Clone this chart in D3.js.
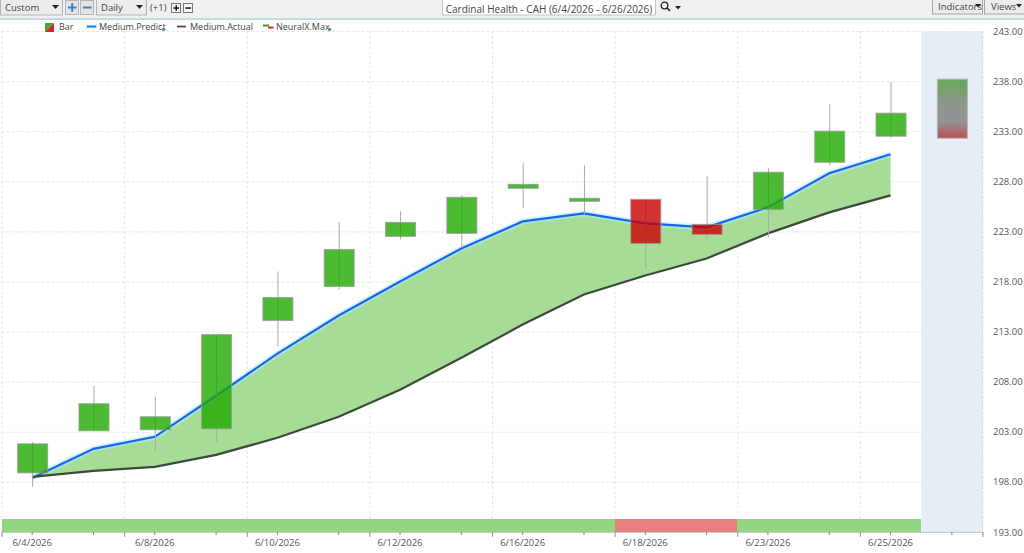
<!DOCTYPE html>
<html>
<head>
<meta charset="utf-8">
<script src="https://cdn.jsdelivr.net/npm/d3@7"></script>
<style>
  html, body { margin: 0; padding: 0; background: #fff; overflow: hidden; }
  text { font-family: "Open Sans", "Noto Sans", sans-serif; }
  .tool { font-size: 9.5px; fill: #444; }
  .legend { font-size: 9px; fill: #444; }
  .tick text { font-size: 9.5px; fill: #555; }
</style>
</head>
<body>
<script>
// chart values
var dates = ["6/4/2026", "6/5/2026", "6/8/2026", "6/9/2026", "6/10/2026", "6/11/2026", "6/12/2026", "6/15/2026",
             "6/16/2026", "6/17/2026", "6/18/2026", "6/22/2026", "6/23/2026", "6/24/2026", "6/25/2026", "6/26/2026"];
var labelledDates = ["6/4/2026", "6/8/2026", "6/10/2026", "6/12/2026", "6/16/2026", "6/18/2026", "6/23/2026", "6/25/2026"];
var gridDates = ["6/4/2026", "6/8/2026", "6/10/2026", "6/12/2026", "6/16/2026", "6/18/2026", "6/23/2026", "6/25/2026"];

var open  = [198.9, 203.1, 203.2, 203.3, 214.1, 217.5, 222.5, 222.8, 227.3, 226.0, 226.2, 223.7, 225.2, 229.9, 232.5];
var close = [201.8, 205.8, 204.5, 212.7, 216.4, 221.2, 223.9, 226.4, 227.7, 226.3, 221.8, 222.7, 228.9, 233.0, 234.8];
var high  = [202.0, 207.6, 206.5, 212.7, 219.0, 223.9, 225.0, 226.6, 229.8, 229.6, 226.2, 228.5, 229.3, 235.7, 237.9];
var low   = [197.5, 203.1, 201.0, 202.0, 211.5, 217.2, 222.2, 221.4, 225.3, 224.7, 219.3, 222.3, 222.4, 229.6, 232.3];

var predict = [198.4, 201.3, 202.5, 206.6, 210.8, 214.6, 218.0, 221.3, 224.0, 224.8, 223.8, 223.4, 225.4, 228.8, 230.7];
var actual  = [198.5, 199.1, 199.5, 200.7, 202.4, 204.5, 207.2, 210.4, 213.7, 216.7, 218.6, 220.3, 222.8, 224.9, 226.6];

// strip along the bottom: 1 = up day, -1 = down day
var signal = [1, 1, 1, 1, 1, 1, 1, 1, 1, 1, -1, -1, 1, 1, 1];

// forecast bar in the shaded last column
var forecastHigh = 238.2, forecastLow = 232.3;

var priceTicks = [243, 238, 233, 228, 223, 218, 213, 208, 203, 198, 193];
var legendItems = ["Bar", "Medium.Predict", "Medium.Actual", "NeuralX.Max"];
var chartTitle = "Cardinal Health - CAH (6/4/2026 - 6/26/2026)";

var width = 1024, height = 553;
var svg = d3.select("body").append("svg").attr("width", width).attr("height", height);
var defs = svg.append("defs");

var x = d3.scaleBand().domain(dates).range([1.5, 982.5]);
var y = d3.scaleLinear().domain([193, 243]).range([532, 31]);
var cx = function(i){ return x(dates[i]) + x.bandwidth() / 2; };
var bodyW = 30;

// *** toolbar ***
function drawToolbar(){
  var bar = svg.append("g");
  bar.append("rect").attr("width", width).attr("height", 18.5).attr("fill", "#f0f0f0");
  bar.append("rect").attr("y", 18.5).attr("width", width).attr("height", 1.2).attr("fill", "#9cc7e4");

  function dropdown(x0, w, label){
    bar.append("rect").attr("x", x0 + .5).attr("y", -2).attr("width", w).attr("height", 17)
      .attr("fill", "#ececec").attr("stroke", "#b5b5b5");
    bar.append("text").attr("class", "tool").attr("x", x0 + 5).attr("y", 11).text(label);
    bar.append("path").attr("d", "M" + (x0 + w - 10) + ",5h7l-3.5,4z").attr("fill", "#222");
  }
  dropdown(0, 62, "Custom");
  dropdown(96, 50, "Daily");
  bar.append("text").attr("class", "tool").attr("x", 150).attr("y", 11).text("(+1)");

  function blueButton(x0, plus){
    bar.append("rect").attr("x", x0 + .5).attr("y", .5).attr("width", 13).attr("height", 14)
      .attr("fill", "#e4e4e4").attr("stroke", "#b5b5b5");
    bar.append("rect").attr("x", x0 + 3).attr("y", 6.5).attr("width", 8.5).attr("height", 2).attr("fill", "#2f86c5");
    if (plus) bar.append("rect").attr("x", x0 + 6.2).attr("y", 3.2).attr("width", 2).attr("height", 8.5).attr("fill", "#2f86c5");
  }
  blueButton(65, true);
  blueButton(80, false);

  function smallButton(x0, plus){
    bar.append("rect").attr("x", x0 + .5).attr("y", 3.5).attr("width", 9).attr("height", 9)
      .attr("fill", "#f4f4f4").attr("stroke", "#777");
    bar.append("rect").attr("x", x0 + 2.5).attr("y", 7.3).attr("width", 5.5).attr("height", 1.5).attr("fill", "#111");
    if (plus) bar.append("rect").attr("x", x0 + 4.5).attr("y", 5.3).attr("width", 1.5).attr("height", 5.5).attr("fill", "#111");
  }
  smallButton(171, true);
  smallButton(183, false);

  bar.append("rect").attr("x", 442.5).attr("y", -2).attr("width", 213).attr("height", 17)
    .attr("fill", "#fff").attr("stroke", "#c4c4c4");
  bar.append("text").attr("class", "tool").attr("x", 549).attr("y", 13).attr("text-anchor", "middle")
    .style("font-size", "10px").text(chartTitle);

  bar.append("circle").attr("cx", 664.5).attr("cy", 5.5).attr("r", 3.3).attr("fill", "none").attr("stroke", "#222").attr("stroke-width", 1.3);
  bar.append("path").attr("d", "M667,8l3,3").attr("stroke", "#222").attr("stroke-width", 1.6);
  bar.append("path").attr("d", "M675,6h6l-3,3.5z").attr("fill", "#222");

  bar.append("rect").attr("x", 932.5).attr("y", -2).attr("width", 50).attr("height", 16).attr("fill", "#ececec").attr("stroke", "#a5a5a5");
  bar.append("text").attr("class", "tool").attr("x", 938).attr("y", 10).text("Indicators");
  bar.append("path").attr("d", "M975,4h6l-3,3.5z").attr("fill", "#222");
  bar.append("rect").attr("x", 984.5).attr("y", -2).attr("width", 41).attr("height", 16).attr("fill", "#ececec").attr("stroke", "#a5a5a5");
  bar.append("text").attr("class", "tool").attr("x", 991).attr("y", 10).text("Views");
  bar.append("path").attr("d", "M1016,4h6l-3,3.5z").attr("fill", "#222");
}

// *** legend ***
function drawLegend(){
  var g = svg.append("g");
  var ly = 27;
  // Bar icon, split on the diagonal
  g.append("path").attr("d", "M45,32V23H54z").attr("fill", "#3fae2a");
  g.append("path").attr("d", "M54,23V32H45z").attr("fill", "#d6262b");
  g.append("text").attr("class", "legend").attr("x", 59).attr("y", ly + 3).text(legendItems[0]);

  g.append("rect").attr("x", 86).attr("y", 24.5).attr("width", 11).attr("height", 4).attr("fill", "#bfeeff");
  g.append("rect").attr("x", 87).attr("y", 25.7).attr("width", 9).attr("height", 1.7).attr("fill", "#1d6ff2");
  g.append("text").attr("class", "legend").attr("x", 99).attr("y", ly + 3).text(legendItems[1]);
  g.append("circle").attr("cx", 163.5).attr("cy", 29.5).attr("r", 1.7).attr("fill", "#4d94a8");

  g.append("rect").attr("x", 177).attr("y", 25.7).attr("width", 9).attr("height", 1.7).attr("fill", "#444");
  g.append("text").attr("class", "legend").attr("x", 190).attr("y", ly + 3).text(legendItems[2]);

  g.append("rect").attr("x", 263).attr("y", 24.5).attr("width", 6).attr("height", 2).attr("fill", "#2f9e2a");
  g.append("rect").attr("x", 268).attr("y", 26.5).attr("width", 5.5).attr("height", 2).attr("fill", "#d6262b");
  g.append("text").attr("class", "legend").attr("x", 276).attr("y", ly + 3).text(legendItems[3]);
  g.append("circle").attr("cx", 329.5).attr("cy", 29.5).attr("r", 1.7).attr("fill", "#4d94a8");
}

// *** grid ***
function drawGrid(){
  var g = svg.append("g").attr("fill", "none").attr("stroke", "#e6e6e6").attr("stroke-dasharray", "3,2");
  g.selectAll(".h").data(priceTicks).enter().append("line")
    .attr("x1", x.range()[0]).attr("x2", x.range()[1])
    .attr("y1", function(d){ return y(d) + .5; }).attr("y2", function(d){ return y(d) + .5; });
  // vertical grid sits on the left edge of every labelled day's pair
  var edges = gridDates.map(function(d){ return x(d); });
  edges.push(x.range()[1]);
  g.selectAll(".v").data(edges).enter().append("line")
    .attr("x1", function(d){ return d + .5; }).attr("x2", function(d){ return d + .5; })
    .attr("y1", y(243)).attr("y2", y(193));
}

// *** forecast column and strip ***
function drawForecast(){
  var pat = defs.append("pattern").attr("id", "hatch").attr("width", 3).attr("height", 3)
    .attr("patternUnits", "userSpaceOnUse");
  pat.append("rect").attr("width", 3).attr("height", 3).attr("fill", "#e8eef6");
  pat.append("path").attr("d", "M0,3L3,0").attr("stroke", "#e2e9f3").attr("stroke-width", .7);

  var last = dates[dates.length - 1];
  svg.append("rect").attr("x", x(last)).attr("y", y(243)).attr("width", x.bandwidth())
    .attr("height", y(193) - y(243)).attr("fill", "url(#hatch)");
  svg.append("path")
    .attr("d", "M" + (x(last) + x.bandwidth()) + "," + y(243) + "V" + y(193) + "H" + x(last))
    .attr("fill", "none").attr("stroke", "#cfe2f3").attr("stroke-dasharray", "3,1");

  var grad = defs.append("linearGradient").attr("id", "fc").attr("x1", 0).attr("x2", 0).attr("y1", 0).attr("y2", 1);
  grad.append("stop").attr("offset", "0%").attr("stop-color", "#66a85a");
  grad.append("stop").attr("offset", "50%").attr("stop-color", "#939393");
  grad.append("stop").attr("offset", "72%").attr("stop-color", "#939393");
  grad.append("stop").attr("offset", "100%").attr("stop-color", "#bd4f52");

  svg.append("rect").attr("x", cx(15) - bodyW / 2 + .5).attr("y", y(forecastHigh))
    .attr("width", bodyW).attr("height", y(forecastLow) - y(forecastHigh))
    .attr("fill", "url(#fc)").attr("stroke", "#b5b5b5");
}

function drawStrip(){
  svg.append("g").selectAll("rect").data(signal).enter().append("rect")
    .attr("x", function(d, i){ return x(dates[i]); })
    .attr("y", 519).attr("width", x.step()).attr("height", 12.5)
    .attr("fill", function(d){ return d > 0 ? "#93d682" : "#e98080"; })
    .attr("shape-rendering", "crispEdges");
}

// *** predict / actual ***
function drawLines(){
  var idx = d3.range(predict.length);
  var area = d3.area().x(cx).y0(function(i){ return y(actual[i]); }).y1(function(i){ return y(predict[i]); });
  var predictLine = d3.line().x(cx).y(function(i){ return y(predict[i]); });
  var actualLine = d3.line().x(cx).y(function(i){ return y(actual[i]); });

  svg.append("path").datum(idx).attr("d", area).attr("fill", "#a6dc96");
  svg.append("path").datum(idx).attr("d", predictLine).attr("fill", "none")
    .attr("stroke", "#a8f0ff").attr("stroke-width", 6).attr("opacity", .55);
  svg.append("path").datum(idx).attr("d", predictLine).attr("fill", "none")
    .attr("stroke", "#1e62f0").attr("stroke-width", 2.2);
  svg.append("path").datum(idx).attr("d", actualLine).attr("fill", "none")
    .attr("stroke", "#3c4a3c").attr("stroke-width", 2.2);
}

// *** candles ***
function drawCandles(){
  var idx = d3.range(open.length);
  var g = svg.append("g");
  g.selectAll(".wick").data(idx).enter().append("line")
    .attr("x1", function(i){ return cx(i) + .5; }).attr("x2", function(i){ return cx(i) + .5; })
    .attr("y1", function(i){ return y(high[i]); }).attr("y2", function(i){ return y(low[i]); })
    .attr("stroke", "#aaa");
  g.selectAll(".body").data(idx).enter().append("rect")
    .attr("x", function(i){ return cx(i) - bodyW / 2 + .5; })
    .attr("y", function(i){ return y(Math.max(open[i], close[i])); })
    .attr("width", bodyW)
    .attr("height", function(i){ return Math.abs(y(open[i]) - y(close[i])); })
    .attr("fill", function(i){ return close[i] >= open[i] ? "#20a900" : "#ca0000"; })
    .attr("fill-opacity", .8)
    .attr("stroke", "#999").attr("stroke-opacity", .8);
}

// *** axes ***
function drawAxes(){
  var yAxis = d3.axisRight(y).tickValues(priceTicks).tickSize(0).tickPadding(0)
    .tickFormat(function(d){ return d3.format(".2f")(d); });
  var gy = svg.append("g").attr("transform", "translate(993,0)").call(yAxis);
  gy.select(".domain").remove();

  var xAxis = d3.axisBottom(x).tickSize(3).tickPadding(4)
    .tickFormat(function(d){ return labelledDates.indexOf(d) >= 0 ? d : ""; });
  var gx = svg.append("g").attr("transform", "translate(0,532)").call(xAxis);
  gx.select(".domain").attr("stroke", "#ccc");
  gx.selectAll(".tick line").attr("stroke", "#888");
  gx.selectAll(".tick text").attr("font-family", null);

  // longer ticks under the grid edges
  var edges = gridDates.map(function(d){ return x(d); });
  edges.push(x.range()[1]);
  gx.selectAll(".major").data(edges).enter().append("line")
    .attr("x1", function(d){ return d + .5; }).attr("x2", function(d){ return d + .5; })
    .attr("y1", 0).attr("y2", 5).attr("stroke", "#999");
}

drawToolbar();
drawGrid();
drawForecast();
drawStrip();
drawLines();
drawCandles();
drawAxes();
drawLegend();
</script>
</body>
</html>
